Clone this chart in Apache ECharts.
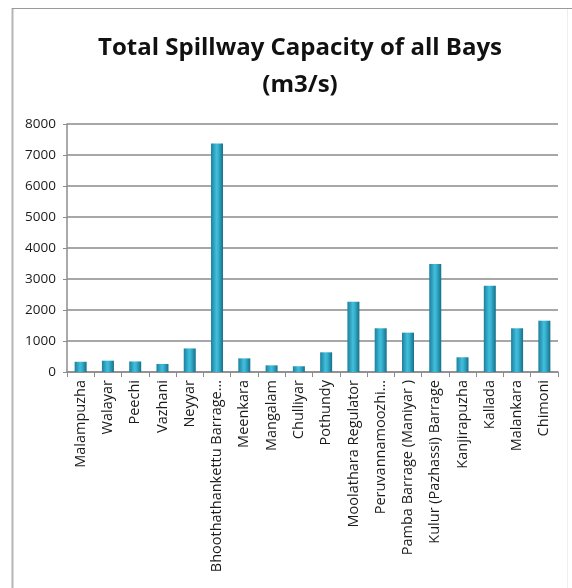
<!DOCTYPE html>
<html>
<head>
<meta charset="utf-8">
<script src="https://cdn.jsdelivr.net/npm/echarts@6/dist/echarts.min.js"></script>
<style>
html,body{margin:0;padding:0;background:#fff;}
#c{width:572px;height:588px;}
</style>
</head>
<body>
<div id="c"></div>
<script>
var categories = ["Malampuzha","Walayar","Peechi","Vazhani","Neyyar","Bhoothathankettu Barrage…","Meenkara","Mangalam","Chulliyar","Pothundy","Moolathara Regulator","Peruvannamoozhi…","Pamba Barrage (Maniyar )","Kulur (Pazhassi) Barrage","Kanjirapuzha","Kallada","Malankara","Chimoni"];
var capacity = [330,365,340,260,760,7375,440,215,185,635,2270,1410,1270,3485,475,2785,1410,1655];
var yTicks = [0,1000,2000,3000,4000,5000,6000,7000,8000];

var chart = echarts.init(document.getElementById('c'), null, {renderer:'canvas'});
chart.setOption({
  backgroundColor:'#fff',
  animation:false,
  title:{
    text:'Total Spillway Capacity of all Bays\n(m3/s)',
    left:295, top:25, textAlign:'center',
    textStyle:{fontFamily:'Open Sans', fontWeight:'bold', fontSize:24, color:'#111', lineHeight:37}
  },
  graphic:[
    {type:'line', shape:{x1:12.5,y1:8,x2:12.5,y2:588}, style:{stroke:'#b5b5b5', lineWidth:2}},
    {type:'line', shape:{x1:12,y1:8.5,x2:572,y2:8.5}, style:{stroke:'#9a9a9a', lineWidth:1}},
    {type:'line', shape:{x1:567.5,y1:9,x2:567.5,y2:588}, style:{stroke:'#eeeeee', lineWidth:1}}
  ],
  grid:{left:67, right:14, top:124, bottom:216, containLabel:false},
  xAxis:{
    type:'category', data:categories,
    axisLine:{lineStyle:{color:'#8c8c8c', width:1.5}},
    axisTick:{show:true, alignWithLabel:false, length:5, lineStyle:{color:'#8c8c8c'}},
    axisLabel:{rotate:90, interval:0, fontFamily:'Open Sans', fontSize:14.5, color:'#1a1a1a', margin:8}
  },
  yAxis:{
    type:'value', min:0, max:8000, interval:1000,
    axisLine:{show:true, lineStyle:{color:'#8c8c8c', width:1.5}},
    axisTick:{show:true, length:4, lineStyle:{color:'#8c8c8c'}},
    axisLabel:{fontFamily:'Open Sans', fontSize:13.5, color:'#1a1a1a', margin:11,
      formatter:function(v){return yTicks.indexOf(v)>=0? String(v):'';}},
    splitLine:{lineStyle:{color:'#8a8a8a', width:1.5}}
  },
  series:[{
    type:'bar', data:capacity, barWidth:'44%',
    itemStyle:{color:new echarts.graphic.LinearGradient(0,0,1,0,[
      {offset:0,color:'#1b809d'},{offset:0.45,color:'#42bedb'},{offset:0.6,color:'#36b2d0'},{offset:1,color:'#167089'}
    ])}
  }]
});
</script>
</body>
</html>
